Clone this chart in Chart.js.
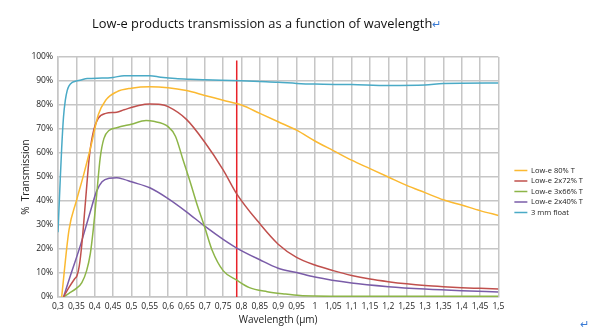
<!DOCTYPE html>
<html>
<head>
<meta charset="utf-8">
<script src="https://cdn.jsdelivr.net/npm/chart.js@4.4.1/dist/chart.umd.min.js"></script>
<style>
  html, body { margin: 0; padding: 0; background: #fff; }
  #wrap { position: relative; width: 600px; height: 336px; font-family: "Open Sans", sans-serif; }
  #title { position: absolute; left: 92px; top: 14px; font-size: 12.85px; color: #111; white-space: nowrap; }
  .ret { color: #3a7bd5; font-size: 11px; }
  #ret2 { position: absolute; left: 580px; top: 316px; }
</style>
</head>
<body>
<div id="wrap">
  <canvas id="chart" width="600" height="336"></canvas>
  <div id="title">Low-e products transmission as a function of wavelength<span class="ret">↵</span></div>
  <div id="ret2" class="ret">↵</div>
</div>
<script>
// wavelength (µm) / transmission (%)
const floatX = [0.3, 0.305, 0.31, 0.315, 0.32, 0.325, 0.33, 0.34, 0.35, 0.36, 0.38, 0.42, 0.45, 0.48, 0.55, 0.58, 0.62, 0.66, 0.7, 0.8, 0.85, 0.9, 0.95, 1.0, 1.1, 1.2, 1.3, 1.35, 1.5];
const floatY = [27, 45, 62, 75, 82, 86, 88, 89.5, 90, 90.3, 91, 91.2, 91.5, 92.2, 92.2, 91.6, 91, 90.7, 90.5, 90.1, 89.8, 89.5, 89, 88.7, 88.5, 88.1, 88.3, 89, 89.2];

const low80X = [0.31, 0.33, 0.35, 0.37, 0.39, 0.41, 0.43, 0.46, 0.5, 0.55, 0.6, 0.65, 0.7, 0.75, 0.8, 0.85, 0.9, 0.95, 1.0, 1.05, 1.1, 1.15, 1.2, 1.25, 1.3, 1.35, 1.4, 1.45, 1.5];
const low80Y = [0, 28, 40, 51, 63, 76, 82, 85.5, 87, 87.6, 87.2, 86, 84, 82, 80, 76.5, 73, 69.5, 65, 61, 57, 53.5, 50, 46.5, 43.5, 40.5, 38.3, 36, 34];

const low72X = [0.315, 0.33, 0.345, 0.352, 0.358, 0.365, 0.375, 0.385, 0.395, 0.41, 0.43, 0.46, 0.48, 0.52, 0.55, 0.58, 0.6, 0.65, 0.7, 0.75, 0.787, 0.85, 0.9, 0.95, 1.0, 1.05, 1.1, 1.15, 1.2, 1.25, 1.3, 1.35, 1.4, 1.45, 1.5];
const low72Y = [0, 4, 7.5, 9, 13, 22, 40, 58, 68, 74.5, 76.5, 77, 78, 79.8, 80.4, 80.2, 79.3, 74, 64.5, 53, 43, 30.5, 22, 16.5, 13.3, 11, 9, 7.5, 6.4, 5.5, 4.8, 4.3, 3.9, 3.6, 3.3];

const low66X = [0.315, 0.33, 0.35, 0.365, 0.378, 0.388, 0.396, 0.405, 0.415, 0.425, 0.44, 0.46, 0.5, 0.54, 0.56, 0.6, 0.62, 0.64, 0.66, 0.68, 0.7, 0.72, 0.75, 0.787, 0.82, 0.87, 0.92, 0.96, 1.0, 1.1, 1.5];
const low66Y = [0, 1.5, 3.6, 6, 11, 18, 28, 42, 58, 66, 69.5, 70.5, 72, 73.5, 73.2, 71, 67, 57.5, 48, 38, 29, 19.5, 11, 7, 4, 2.2, 1.2, 0.6, 0.4, 0.3, 0.3];

const low40X = [0.315, 0.333, 0.36, 0.387, 0.405, 0.42, 0.44, 0.46, 0.48, 0.5, 0.55, 0.6, 0.65, 0.7, 0.75, 0.787, 0.85, 0.9, 0.95, 1.0, 1.1, 1.2, 1.3, 1.4, 1.5];
const low40Y = [0, 8.5, 21, 35, 44, 48, 49.5, 49.7, 49, 48, 45.5, 41, 35.5, 29.5, 24, 20.4, 15.5, 12, 10.2, 8.3, 5.8, 4.3, 3.3, 2.6, 2.1];

const markerX = [0.787, 0.787];
const markerY = [0, 98.5];

const seriesNames = ['Low-e 80% T', 'Low-e 2x72% T', 'Low-e 3x66% T', 'Low-e 2x40% T', '3 mm float'];
const seriesColors = ['#FBB931', '#C0504D', '#8DB548', '#7A5CA8', '#4AAAC6'];

const pts = (xs, ys) => xs.map((x, i) => ({ x: x, y: ys[i] }));
const seriesData = [pts(low80X, low80Y), pts(low72X, low72Y), pts(low66X, low66Y), pts(low40X, low40Y), pts(floatX, floatY)];

const datasets = seriesNames.map((name, i) => ({
    label: name,
    data: seriesData[i],
    borderColor: seriesColors[i],
    backgroundColor: seriesColors[i],
    borderWidth: 1.5,
    pointRadius: 0,
    cubicInterpolationMode: 'monotone',
    fill: false
}));
datasets.push({
    label: 'marker',
    data: pts(markerX, markerY),
    borderColor: '#E8232A',
    borderWidth: 1.5,
    pointRadius: 0,
    fill: false
});

// legend sits a bit away from the plot: widen its box, push items right
const LEGEND_EXTRA = 20, LEGEND_SHIFT = 13;
const legendGap = {
    id: 'legendGap',
    beforeInit(chart) {
        const lg = chart.legend;
        const fit = lg.fit;
        lg.fit = function () { fit.call(this); this.width += LEGEND_EXTRA; };
    },
    afterLayout(chart) { chart.legend.left += LEGEND_SHIFT; }
};

const fmt = v => (Math.round(v * 100) / 100).toString().replace('.', ',');
const gridColor = '#c6c6c6';
const txt = '#222';

new Chart(document.getElementById('chart'), {
    type: 'line',
    data: { datasets },
    plugins: [legendGap],
    options: {
        responsive: false,
        animation: false,
        layout: { padding: { top: 57, left: 20, right: 0, bottom: 10 } },
        plugins: {
            title: { display: false },
            tooltip: { enabled: false },
            legend: {
                position: 'right',
                align: 'center',
                labels: {
                    filter: item => item.text !== 'marker',
                    usePointStyle: true,
                    pointStyle: 'line',
                    pointStyleWidth: 13,
                    boxHeight: 6,
                    padding: 3,
                    color: txt,
                    font: { family: 'Open Sans', size: 7.5 }
                }
            }
        },
        scales: {
            x: {
                type: 'linear',
                min: 0.3,
                max: 1.5,
                grid: { color: gridColor, lineWidth: 1.5, drawTicks: false },
                border: { color: gridColor, width: 1.5 },
                ticks: {
                    stepSize: 0.05,
                    autoSkip: false,
                    maxRotation: 0,
                    padding: 4,
                    color: txt,
                    font: { family: 'Open Sans', size: 8.5 },
                    callback: v => fmt(v)
                },
                title: {
                    display: true,
                    text: 'Wavelength (µm)',
                    color: txt,
                    font: { family: 'Open Sans', size: 10 },
                    padding: { top: 3, bottom: 0 }
                },
                afterFit: s => { s.height = 29; }
            },
            y: {
                min: 0,
                max: 100,
                grid: { color: gridColor, lineWidth: 1.5, drawTicks: false },
                border: { color: gridColor, width: 1.5 },
                ticks: {
                    stepSize: 10,
                    padding: 5,
                    color: txt,
                    font: { family: 'Open Sans', size: 8.5 },
                    callback: v => v + '%'
                },
                title: {
                    display: true,
                    text: '%  Transmission',
                    color: txt,
                    font: { family: 'Open Sans', size: 10 },
                    padding: { top: 0, bottom: 2 }
                },
                afterFit: s => { s.width = 38; }
            }
        }
    }
});
</script>
</body>
</html>
